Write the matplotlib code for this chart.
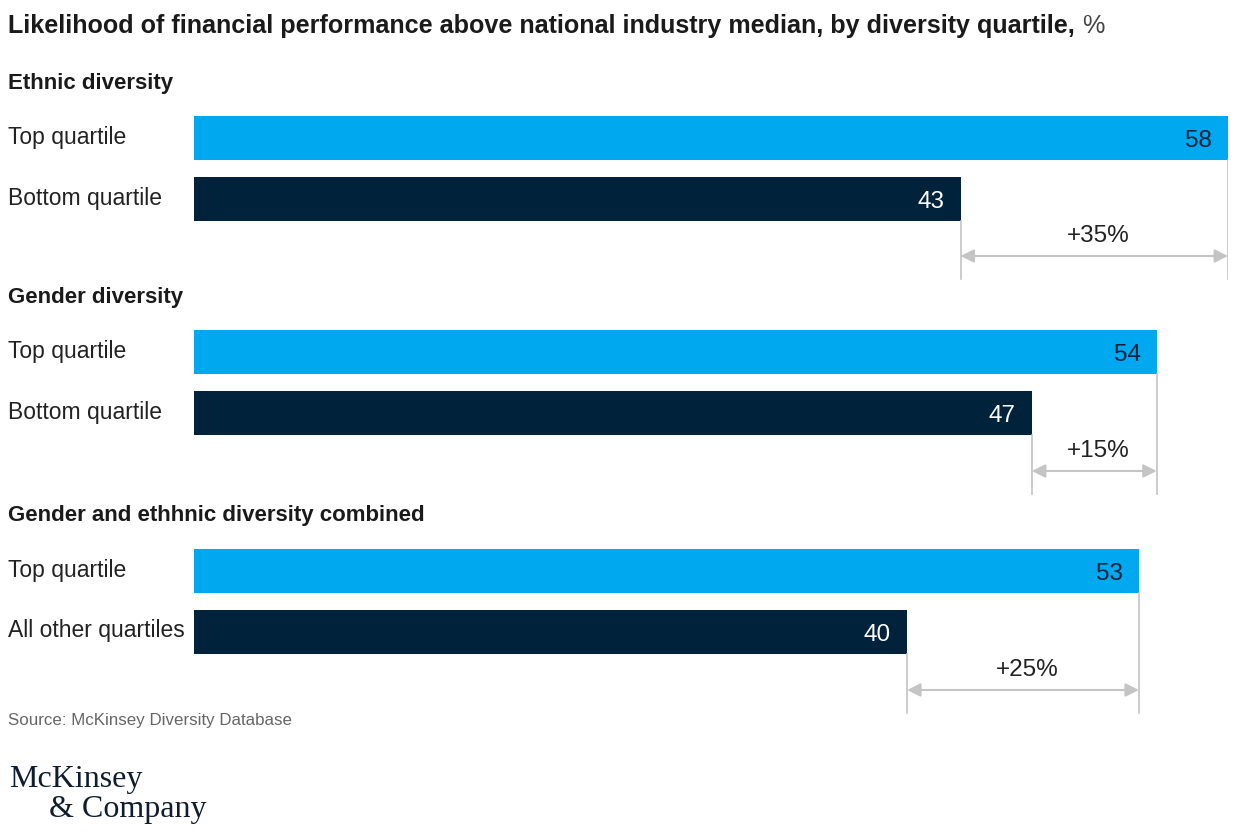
import matplotlib

matplotlib.use("Agg")
import matplotlib.pyplot as plt

W, H = 1238, 837
LIGHT = "#00A8F0"
DARK = "#00223A"
GREY = "#C4C4C4"
FONT = "Liberation Sans"

title = "Likelihood of financial performance above national industry median, by diversity quartile,"
groups = ["Ethnic diversity", "Gender diversity", "Gender and ethhnic diversity combined"]
top_labels = ["Top quartile", "Top quartile", "Top quartile"]
bottom_labels = ["Bottom quartile", "Bottom quartile", "All other quartiles"]
top_values = [58, 54, 53]
bottom_values = [43, 47, 40]
uplift = ["+35%", "+15%", "+25%"]

# pixel layout of each group (group heading y, top bar centre, bottom bar centre, arrow y)
group_y = [83, 297, 516]
top_y = [139, 353, 572]
bottom_y = [200, 414, 633]
arrow_y = [257, 472, 691]
bar_h = 44

fig = plt.figure(figsize=(W / 100, H / 100), dpi=100)
ax = fig.add_axes([194 / W, 0, (1228 - 194) / W, 1])
ax.set_xlim(0, max(top_values))
ax.set_ylim(H, 0)
ax.axis("off")

# value units per pixel
upp = max(top_values) / (1228 - 194)


def px(x):
    # pixel x -> data x
    return (x - 194) * upp


t = fig.text(8 / W, 1 - 26 / H, title, fontsize=18.1, fontweight="bold",
             family=FONT, color="#1a1a1a", va="center")
fig.canvas.draw()
bb = t.get_window_extent()
fig.text((bb.x1 + 7) / W, 1 - 26 / H, "%", fontsize=18.1, family=FONT,
         color="#444444", va="center")

for i in range(3):
    ax.text(px(8), group_y[i], groups[i], fontsize=16, fontweight="bold",
            family=FONT, color="#1a1a1a", va="center", clip_on=False)
    ax.text(px(8), top_y[i] - 2, top_labels[i], fontsize=16.5, family=FONT,
            color="#222222", va="center", clip_on=False)
    ax.text(px(8), bottom_y[i] - 2, bottom_labels[i], fontsize=16.5, family=FONT,
            color="#222222", va="center", clip_on=False)

    ax.barh(top_y[i], top_values[i], height=bar_h, color=LIGHT, left=0)
    ax.barh(bottom_y[i], bottom_values[i], height=bar_h, color=DARK, left=0)
    ax.text(top_values[i] - 16 * upp, top_y[i] + 2, str(top_values[i]),
            fontsize=17.5, family=FONT, color=DARK, ha="right", va="center")
    ax.text(bottom_values[i] - 16 * upp, bottom_y[i] + 2, str(bottom_values[i]),
            fontsize=17.5, family=FONT, color="white", ha="right", va="center")

    # guide lines and double arrow
    y_end = arrow_y[i] + 23
    ax.plot([top_values[i]] * 2, [top_y[i] + bar_h / 2, y_end], color=GREY, lw=1.2)
    ax.plot([bottom_values[i]] * 2, [bottom_y[i] + bar_h / 2, y_end], color=GREY, lw=1.2)
    ax.annotate("", xy=(top_values[i], arrow_y[i]), xytext=(bottom_values[i], arrow_y[i]),
                arrowprops=dict(arrowstyle="<|-|>,head_length=0.8,head_width=0.4",
                                color=GREY, lw=1.5, mutation_scale=10,
                                shrinkA=0, shrinkB=0))
    ax.text((top_values[i] + bottom_values[i]) / 2 + 4 * upp, arrow_y[i] - 21, uplift[i],
            fontsize=17.5, family=FONT, color="#222222", ha="center", va="center")

fig.text(8 / W, 1 - 721 / H, "Source: McKinsey Diversity Database", fontsize=12.2,
         family=FONT, color="#666666", va="center")
fig.text(9 / W, 1 - 780 / H, "McKinsey", fontsize=23, family="Liberation Serif",
         color="#0f1d2e", va="center")
fig.text(49 / W, 1 - 810 / H, "& Company", fontsize=23, family="Liberation Serif",
         color="#0f1d2e", va="center")

fig.savefig("out.png", dpi=100)
